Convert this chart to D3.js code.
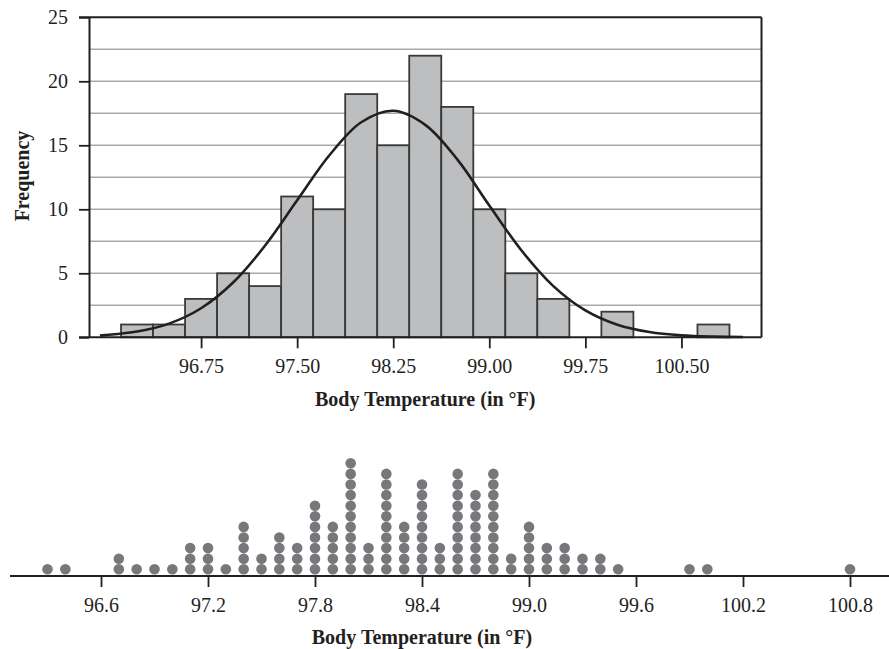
<!DOCTYPE html>
<html><head><meta charset="utf-8">
<script src="https://cdn.jsdelivr.net/npm/d3@7"></script>
<style>body{margin:0;background:#fff} text{font-family:"Liberation Serif","Times New Roman",serif;fill:#231f20}</style>
</head><body><svg id="c" width="889" height="649"></svg>
<script>
// ---- Histogram data ----
const binCenters = [96.25, 96.5, 96.75, 97.0, 97.25, 97.5, 97.75, 98.0, 98.25, 98.5, 98.75, 99.0, 99.25, 99.5, 99.75, 100.0, 100.25, 100.5, 100.75];
const binCounts  = [1, 1, 3, 5, 4, 11, 10, 19, 15, 22, 18, 10, 5, 3, 0, 2, 0, 0, 1];
const binWidth = 0.25;
const histXTicks = [96.75, 97.5, 98.25, 99.0, 99.75, 100.5];
const histYTicks = [0, 5, 10, 15, 20, 25];
const histGrid = [2.5, 5, 7.5, 10, 12.5, 15, 17.5, 20, 22.5];
// fitted normal curve
const curveTemps = [95.96, 96.0, 96.25, 96.5, 96.75, 97.0, 97.25, 97.5, 97.75, 98.0, 98.25, 98.5, 98.75, 99.0, 99.25, 99.5, 99.75, 100.0, 100.25, 100.5, 100.75, 100.98];
const curveFreqs = [0.14, 0.17, 0.45, 1.07, 2.27, 4.28, 7.17, 10.7, 14.2, 16.8, 17.7, 16.6, 13.9, 10.3, 6.8, 4.0, 2.1, 0.98, 0.41, 0.15, 0.05, 0.02];

// ---- Dot plot data ----
const dotTemps  = [96.3, 96.4, 96.7, 96.8, 96.9, 97.0, 97.1, 97.2, 97.3, 97.4, 97.5, 97.6, 97.7, 97.8, 97.9, 98.0, 98.1, 98.2, 98.3, 98.4, 98.5, 98.6, 98.7, 98.8, 98.9, 99.0, 99.1, 99.2, 99.3, 99.4, 99.5, 99.9, 100.0, 100.8];
const dotCounts = [1, 1, 2, 1, 1, 1, 3, 3, 1, 5, 2, 4, 3, 7, 5, 11, 3, 10, 5, 9, 3, 10, 8, 10, 2, 5, 3, 3, 2, 2, 1, 1, 1, 1];
const dotXTicks = [96.6, 97.2, 97.8, 98.4, 99.0, 99.6, 100.2, 100.8];

const xTitle = "Body Temperature (in °F)";
const yTitle = "Frequency";

const svg = d3.select("#c");
const ink = "#231f20";

// ===== Histogram =====
const hx = d3.scaleLinear().domain([95.875, 101.125]).range([89, 761.5]);
const hy = d3.scaleLinear().domain([0, 25]).range([337.3, 17.3]);

const g1 = svg.append("g");
// gridlines
g1.selectAll("line.grid").data(histGrid).join("line")
  .attr("x1", hx.range()[0]).attr("x2", hx.range()[1])
  .attr("y1", d => hy(d)).attr("y2", d => hy(d))
  .attr("stroke", "#a7a9ac").attr("stroke-width", 1.4);

// bars
g1.selectAll("rect.bar").data(binCenters.map((c, i) => ({c, n: binCounts[i]})).filter(d => d.n > 0)).join("rect")
  .attr("x", d => hx(d.c - binWidth / 2))
  .attr("width", d => hx(d.c + binWidth / 2) - hx(d.c - binWidth / 2))
  .attr("y", d => hy(d.n))
  .attr("height", d => hy(0) - hy(d.n))
  .attr("fill", "#bcbec0").attr("stroke", "#3a3a3a").attr("stroke-width", 1.8);

// curve
const line = d3.line().x((d, i) => hx(curveTemps[i])).y((d, i) => hy(curveFreqs[i])).curve(d3.curveCatmullRom);
g1.append("path").attr("d", line(curveTemps)).attr("fill", "none").attr("stroke", ink).attr("stroke-width", 2.6);

// frame (top & right)
g1.append("line").attr("x1", hx.range()[0] - 10).attr("x2", hx.range()[1]).attr("y1", hy(25)).attr("y2", hy(25)).attr("stroke", ink).attr("stroke-width", 2);
g1.append("line").attr("x1", hx.range()[1]).attr("x2", hx.range()[1]).attr("y1", hy(25)).attr("y2", hy(0)).attr("stroke", ink).attr("stroke-width", 2);

// axes
const yAxis = g1.append("g").attr("transform", `translate(${hx.range()[0]},0)`)
  .call(d3.axisLeft(hy).tickValues(histYTicks).tickFormat(d3.format("d")).tickSize(10).tickPadding(11).tickSizeOuter(0));
const xAxis = g1.append("g").attr("transform", `translate(0,${hy(0)})`)
  .call(d3.axisBottom(hx).tickValues(histXTicks).tickFormat(d3.format(".2f")).tickSize(11).tickPadding(11).tickSizeOuter(0));
[yAxis, xAxis].forEach(a => {
  a.select(".domain").attr("stroke", ink).attr("stroke-width", 2);
  a.selectAll(".tick line").attr("stroke", ink).attr("stroke-width", 1.8);
  a.selectAll(".tick text").attr("font-family", '"Liberation Serif", serif').attr("font-size", 20).attr("fill", ink);
});
xAxis.select(".domain").attr("d", `M${hx.range()[0] - 10},0H${hx.range()[1]}`);

g1.append("text").attr("x", (hx.range()[0] + hx.range()[1]) / 2).attr("y", 406)
  .attr("text-anchor", "middle").attr("font-size", 20).attr("font-weight", "bold").text(xTitle);
g1.append("text").attr("transform", "translate(29,176) rotate(-90)")
  .attr("text-anchor", "middle").attr("font-size", 20).attr("font-weight", "bold").text(yTitle);

// ===== Dot plot =====
const dx = d3.scaleLinear().domain([96.6, 100.8]).range([101, 850]);
const axisY = 576;
const dotR = 5.3, dotStep = 10.6;
const g2 = svg.append("g");
const dots = [];
dotTemps.forEach((t, i) => { for (let k = 0; k < dotCounts[i]; k++) dots.push({t, k}); });
g2.selectAll("circle").data(dots).join("circle")
  .attr("cx", d => dx(d.t)).attr("cy", d => axisY - 6.7 - d.k * dotStep)
  .attr("r", dotR).attr("fill", "#77787b");

const dAxis = g2.append("g").attr("transform", `translate(0,${axisY})`)
  .call(d3.axisBottom(dx).tickValues(dotXTicks).tickFormat(d3.format(".1f")).tickSize(11).tickPadding(11).tickSizeOuter(0));
dAxis.select(".domain").attr("d", "M10,0H889").attr("stroke", ink).attr("stroke-width", 1.8);
dAxis.selectAll(".tick line").attr("stroke", ink).attr("stroke-width", 1.8);
dAxis.selectAll(".tick text").attr("font-family", '"Liberation Serif", serif').attr("font-size", 20).attr("fill", ink);

g2.append("text").attr("x", 422).attr("y", 644)
  .attr("text-anchor", "middle").attr("font-size", 20).attr("font-weight", "bold").text(xTitle);
</script></body></html>
